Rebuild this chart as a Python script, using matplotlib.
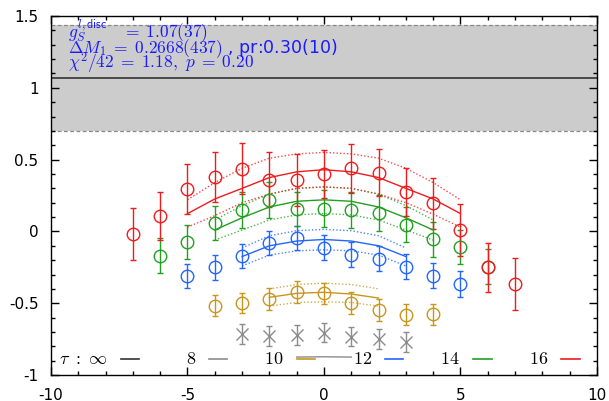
import matplotlib
matplotlib.use("Agg")
import matplotlib.pyplot as plt
from matplotlib.ticker import MultipleLocator

plt.rcParams["mathtext.fontset"] = "cm"
plt.rcParams["font.family"] = ["DejaVu Sans"]

# fitted plateau value and its error band
g_val = 1.07
g_lo = 0.70
g_hi = 1.44

# ratio data per source-sink separation tau
x16 = [-7, -6, -5, -4, -3, -2, -1, 0, 1, 2, 3, 4, 5, 6, 7]
y16 = [-0.016, 0.107, 0.294, 0.378, 0.438, 0.36, 0.357, 0.40, 0.44, 0.41, 0.275, 0.195, 0.01, -0.25, -0.366]
e16 = [0.18, 0.17, 0.175, 0.175, 0.18, 0.19, 0.18, 0.17, 0.17, 0.165, 0.165, 0.175, 0.18, 0.17, 0.18]

x14 = [-6, -5, -4, -3, -2, -1, 0, 1, 2, 3, 4, 5, 6]
y14 = [-0.168, -0.075, 0.06, 0.147, 0.217, 0.158, 0.158, 0.147, 0.128, 0.047, -0.056, -0.11, -0.245]
e14 = [0.12, 0.12, 0.12, 0.125, 0.125, 0.12, 0.128, 0.125, 0.125, 0.12, 0.12, 0.12, 0.12]

x12 = [-5, -4, -3, -2, -1, 0, 1, 2, 3, 4, 5]
y12 = [-0.312, -0.25, -0.172, -0.082, -0.044, -0.114, -0.163, -0.19, -0.245, -0.308, -0.366]
e12 = [0.085, 0.085, 0.085, 0.085, 0.085, 0.088, 0.088, 0.088, 0.088, 0.088, 0.088]

x10 = [-4, -3, -2, -1, 0, 1, 2, 3, 4]
y10 = [-0.517, -0.499, -0.471, -0.42, -0.431, -0.499, -0.545, -0.58, -0.576]
e10 = [0.072, 0.07, 0.077, 0.075, 0.075, 0.075, 0.077, 0.073, 0.073]

x8 = [-3, -2, -1, 0, 1, 2, 3]
y8 = [-0.716, -0.727, -0.72, -0.704, -0.732, -0.75, -0.767]
e8 = [0.068, 0.068, 0.068, 0.068, 0.068, 0.068, 0.07]

# fit curves (central, upper, lower) on the fitted range
fx16 = [-5, -4, -3, -2, -1, 0, 1, 2, 3, 4, 5]
f16 = [0.124, 0.226, 0.30, 0.375, 0.415, 0.43, 0.415, 0.375, 0.30, 0.226, 0.124]
fu16 = [0.22, 0.34, 0.44, 0.51, 0.54, 0.55, 0.54, 0.51, 0.44, 0.34, 0.22]
fl16 = [0.03, 0.11, 0.20, 0.26, 0.30, 0.31, 0.30, 0.26, 0.20, 0.12, 0.03]

fx14 = [-4, -3, -2, -1, 0, 1, 2, 3, 4]
f14 = [0.01, 0.095, 0.17, 0.21, 0.22, 0.21, 0.17, 0.095, 0.01]
fu14 = [0.08, 0.18, 0.26, 0.30, 0.31, 0.30, 0.26, 0.18, 0.08]
fl14 = [-0.06, 0.01, 0.08, 0.115, 0.125, 0.115, 0.08, 0.01, -0.06]

fx12 = [-3, -2, -1, 0, 1, 2, 3]
f12 = [-0.175, -0.10, -0.067, -0.056, -0.067, -0.10, -0.175]
fu12 = [-0.115, -0.03, 0.005, 0.014, 0.005, -0.03, -0.115]
fl12 = [-0.24, -0.165, -0.135, -0.128, -0.135, -0.165, -0.24]

fx10 = [-2, -1, 0, 1, 2]
f10 = [-0.459, -0.431, -0.424, -0.436, -0.464]
fu10 = [-0.40, -0.37, -0.36, -0.37, -0.40]
fl10 = [-0.52, -0.495, -0.49, -0.495, -0.52]

fx8 = [-1, 0, 1]
f8 = [-0.875, -0.873, -0.875]

legend_labels = [r"$\tau\ :\ \infty$", r"$8$", r"$10$", r"$12$", r"$14$", r"$16$"]

RED = "#ee1c1c"
GREEN = "#22a022"
BLUE = "#2266ff"
GOLD = "#c8961e"
GRAY = "#8c8c8c"
BLACK = "#333333"


def main():
    fig = plt.figure(figsize=(6.09, 4.01), dpi=100)
    ax = fig.add_axes([0.0837, 0.0648, 0.8966, 0.8952])

    # plateau band
    ax.axhspan(g_lo, g_hi, color="#cccccc", lw=0, zorder=0)
    ax.axhline(g_hi, color="#888888", lw=0.9, ls=(0, (3, 2)), zorder=1)
    ax.axhline(g_lo, color="#888888", lw=0.9, ls=(0, (3, 2)), zorder=1)
    ax.axhline(g_val, color=BLACK, lw=1.2, zorder=1)

    # data points
    ax.errorbar(x8, y8, yerr=e8, fmt="x", color=GRAY, ms=8, mew=1,
                elinewidth=1, capsize=2.5, capthick=1)
    series = [(x10, y10, e10, GOLD), (x12, y12, e12, BLUE),
              (x14, y14, e14, GREEN), (x16, y16, e16, RED)]
    for xs, ys, es, c in series:
        ax.errorbar(xs, ys, yerr=es, fmt="o", mfc="none", mec=c, color=c,
                    ms=9, mew=1, elinewidth=1, capsize=2.5, capthick=1)

    # fit curves with error bands
    fits = [(fx10, f10, fu10, fl10, GOLD), (fx12, f12, fu12, fl12, BLUE),
            (fx14, f14, fu14, fl14, GREEN), (fx16, f16, fu16, fl16, RED)]
    for fx, f, fu, fl, c in fits:
        ax.plot(fx, f, color=c, lw=1)
        ax.plot(fx, fu, color=c, lw=1, ls=(0, (1, 1.5)), alpha=0.8)
        ax.plot(fx, fl, color=c, lw=1, ls=(0, (1, 1.5)), alpha=0.8)
    ax.plot(fx8, f8, color=GRAY, lw=1)

    # key row along the bottom
    colors = [BLACK, GRAY, GOLD, BLUE, GREEN, RED]
    for i, (lab, c) in enumerate(zip(legend_labels, colors)):
        xr = 0.104 + 0.1612 * i
        ax.text(xr, 0.044, lab, transform=ax.transAxes, ha="right",
                va="center", fontsize=13)
        ax.plot([xr + 0.024, xr + 0.058], [0.044, 0.044], color=c, lw=1.2,
                transform=ax.transAxes)

    # fit results
    tc = "#1a1aff"
    ax.text(-9.36, 1.354, r"$g_S^{l,\mathsf{disc}}\ \ \ =\;1.07(37)$",
            color=tc, fontsize=12.5, va="baseline")
    ax.text(-9.36, 1.242, r"$\Delta M_1\;=\;0.2668(437)$ , pr:0.30(10)",
            color=tc, fontsize=12.5, va="baseline")
    ax.text(-9.36, 1.138, r"$\chi^2/42\;=\;1.18,\ p\;=\;0.20$", color=tc,
            fontsize=12.5, va="baseline")

    ax.set_xlim(-10, 10)
    ax.set_ylim(-1, 1.5)
    ax.xaxis.set_minor_locator(MultipleLocator(1))
    ax.yaxis.set_minor_locator(MultipleLocator(0.1))
    ax.set_yticks([-1, -0.5, 0, 0.5, 1, 1.5])
    ax.set_yticklabels(["-1", "-0.5", "0", "0.5", "1", "1.5"])
    ax.set_xticks([-10, -5, 0, 5, 10])
    ax.set_xticklabels(["-10", "-5", "0", "5", "10"])
    ax.tick_params(which="both", direction="in", top=True, right=True,
                   labelsize=11, width=1)
    ax.tick_params(which="major", length=5.5)
    ax.tick_params(which="minor", length=3)
    ax.tick_params(axis="y", pad=9)
    ax.tick_params(axis="x", pad=9)
    for s in ax.spines.values():
        s.set_linewidth(1)

    fig.savefig("out.png", dpi=100)


if __name__ == "__main__":
    main()
